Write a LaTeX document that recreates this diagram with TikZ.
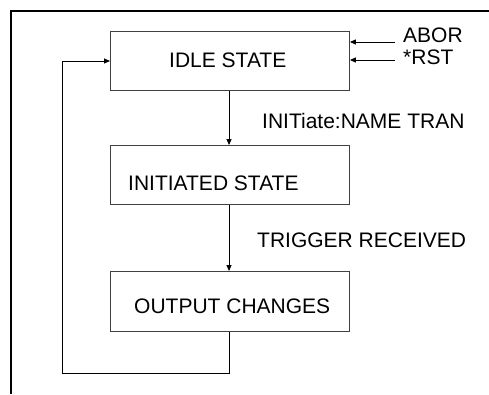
\documentclass[tikz,border=0pt]{standalone}
\usepackage{fontspec}
\setmainfont{Liberation Sans}
\usetikzlibrary{arrows.meta}
\begin{document}
\begin{tikzpicture}[x=1pt,y=-1pt,
  statebox/.style={draw=black!75,line width=0.9pt,minimum width=239pt,minimum height=59pt,inner sep=0pt,anchor=north west},
  txt/.style={font=\fontsize{21}{24}\selectfont,inner sep=0pt},
  conn/.style={draw=black,line width=0.9pt},
  arr/.style={conn,-{Triangle[length=6pt,width=5pt]}},
  frame/.style={draw=black,line width=2pt}]
\useasboundingbox (0,0) rectangle (489,394);
% frame
\coordinate (ftr) at (489,10.5);
\coordinate (ftl) at (11,10.5);
\coordinate (fbl) at (11,394);
\draw[frame] (ftr) -- (ftl) -- (fbl);
% boxes
\node[statebox] (idle) at (110,31) {};
\node[statebox] (init) at (110,145) {};
\node[statebox,minimum height=60pt] (out) at (110,271) {};
% box texts
\node[txt,anchor=west] (tidle) at (169,60) {IDLE STATE};
\node[txt,anchor=west] (tinit) at (128,183) {INITIATED STATE};
\node[txt,anchor=west] (tout) at (134,306) {OUTPUT CHANGES};
% side labels
\node[txt,anchor=west] (abor) at (403,35.5) {ABOR};
\node[txt,anchor=west] (rst) at (403,57.5) {*RST};
\node[txt,anchor=west] (lbinit) at (262,120.5) {INITiate:NAME TRAN};
\node[txt,anchor=west] (lbtrig) at (257,240) {TRIGGER RECEIVED};
% incoming arrows
\coordinate (a1) at (395,42);
\coordinate (a2) at (395,60);
\draw[arr] (a1) -- (a1 -| idle.east);
\draw[arr] (a2) -- (a2 -| idle.east);
% main flow
\coordinate (cx) at (229,0);
\draw[arr] (cx |- idle.south) -- (cx |- init.north);
\draw[arr] (cx |- init.south) -- (cx |- out.north);
% loop
\coordinate (lb) at (229,373);
\coordinate (ll) at (62,373);
\coordinate (lt) at (62,61);
\draw[conn] (cx |- out.south) -- (lb) -- (ll) -- (lt);
\draw[arr] (lt) -- (lt -| idle.west);
\end{tikzpicture}
\end{document}
